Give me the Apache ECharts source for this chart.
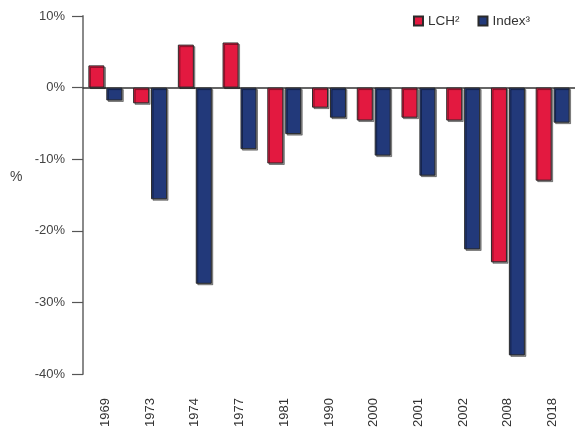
<!DOCTYPE html>
<html>
<head>
<meta charset="utf-8">
<script src="https://cdn.jsdelivr.net/npm/echarts@6/dist/echarts.min.js"></script>
<style>
  html, body { margin: 0; padding: 0; background: #fff; }
  #chart { width: 575px; height: 434px; }
</style>
</head>
<body>
<div id="chart"></div>
<script>
// years on the x axis
var years = ['1969', '1973', '1974', '1977', '1981', '1990', '2000', '2001', '2002', '2008', '2018'];
// returns in %
var lchValues   = [3.1, -2.2, 6.0, 6.3, -10.6, -2.8, -4.6, -4.2, -4.6, -24.4, -13.0];
var indexValues = [-1.8, -15.6, -27.4, -8.6, -6.5, -4.2, -9.5, -12.3, -22.6, -37.4, -4.9];
var yTicks = [-40, -30, -20, -10, 0, 10];

var font = '"Liberation Sans", Arial, sans-serif';

var chart = echarts.init(document.getElementById('chart'));

function barStyle(color) {
	return {
		color: color,
		borderColor: '#2a2a2a',
		borderWidth: 1,
		shadowColor: 'rgba(0,0,0,0.4)',
		shadowOffsetX: 1.5,
		shadowOffsetY: 1.5,
		shadowBlur: 0
	};
}

var option = {
	animation: false,
	backgroundColor: '#fff',
	legend: {
		right: 40,
		top: 9,
		icon: 'rect',
		itemWidth: 9,
		itemHeight: 9,
		itemGap: 18,
		textStyle: { fontFamily: font, fontSize: 13.5, color: '#333' },
		data: ['LCH²', 'Index³']
	},
	grid: { left: 83, width: 495, top: 16, bottom: 60 },
	xAxis: [{
		type: 'category',
		data: years,
		axisLine: { show: false, onZero: false },
		axisTick: { show: false },
		axisLabel: { rotate: 90, margin: 24, fontFamily: font, fontSize: 13, color: '#333' }
	}, {
		type: 'category',
		data: years,
		axisLine: { show: true, onZero: true, lineStyle: { color: '#333', width: 1.5 } },
		axisTick: { show: false },
		axisLabel: { show: false }
	}],
	yAxis: {
		type: 'value',
		min: yTicks[0],
		max: yTicks[yTicks.length - 1],
		interval: 10,
		axisLine: { show: true, lineStyle: { color: '#8a8a8a', width: 2 } },
		axisTick: { show: true, inside: false, length: 11, lineStyle: { color: '#555', width: 1.2 } },
		splitLine: { show: false },
		axisLabel: {
			margin: 18,
			fontFamily: font,
			fontSize: 13,
			color: '#444',
			formatter: function(v) { return v + '%'; }
		}
	},
	graphic: [{
		type: 'text',
		left: 10,
		top: 170,
		style: { text: '%', font: '14px ' + font, fill: '#444' }
	}],
	series: [{
		name: 'LCH²',
		type: 'bar',
		data: lchValues,
		barWidth: 16,
		barGap: '12%',
		itemStyle: barStyle('#e31940')
	}, {
		name: 'Index³',
		type: 'bar',
		data: indexValues,
		barWidth: 16,
		barGap: '12%',
		itemStyle: barStyle('#22397a')
	}]
};

chart.setOption(option);
</script>
</body>
</html>
